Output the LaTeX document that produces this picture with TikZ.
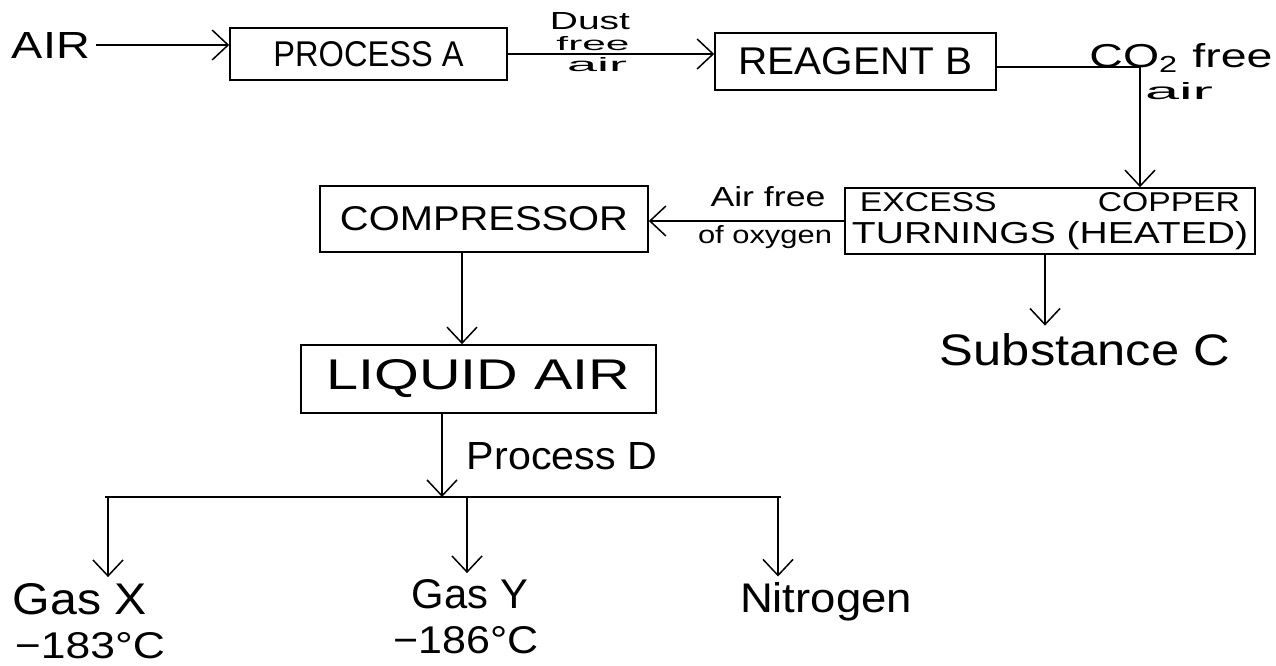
\documentclass[tikz,border=0pt]{standalone}
\usepackage{fontspec}
\setmainfont{Liberation Sans}
\usepackage{graphicx}
\usetikzlibrary{arrows.meta}
\newcommand\hwt[3]{\resizebox{#1pt}{#2pt}{#3}}
\begin{document}
\begin{tikzpicture}[x=1pt,y=-1pt,
  box/.style={draw, line width=1.6pt, inner sep=0pt, rectangle},
  lbl/.style={inner sep=0pt, anchor=center},
  flow/.style={line width=1.5pt, -{Straight Barb[length=16pt,width=30pt,line width=1.5pt]}},
  plain/.style={line width=1.5pt}]
\fill[white] (0,0) rectangle (1276,666);
\useasboundingbox (0,0) rectangle (1276,666);
% boxes
\node[box, minimum width=277pt, minimum height=52pt] (procA) at (368.5,54) {\hwt{190}{25}{PROCESS A}};
\node[box, minimum width=281pt, minimum height=57pt] (reagB) at (855.5,61.5) {\hwt{234}{27}{REAGENT B}};
\node[box, minimum width=410pt, minimum height=66pt, align=center] (exc) at (1050,221) {\hwt{380}{19}{EXCESS\hspace{3em}COPPER}\\[9pt]\hwt{396}{22}{TURNINGS (HEATED)}};
\node[box, minimum width=328pt, minimum height=66pt] (comp) at (484,219) {\hwt{288}{24}{COMPRESSOR}};
\node[box, minimum width=355pt, minimum height=68pt] (liq) at (478.5,379) {\hwt{304}{30}{LIQUID AIR}};
% labels
\node[lbl, inner sep=6pt] (air) at (51,45) {\hwt{78}{26}{AIR}};
\node[lbl] (dust) at (590,21) {\hwt{80}{17}{Dust}};
\node[lbl] (free1) at (593,44) {\hwt{73}{14}{free}};
\node[lbl] (air2) at (597,65) {\hwt{60}{14}{air}};
\node[lbl] (co2) at (1181,58) {\hwt{183}{24}{CO\textsubscript{2} free}};
\node[lbl] (air3) at (1179,91) {\hwt{68}{17}{air}};
\node[lbl] (airfree) at (768,197) {\hwt{115}{20}{Air free}};
\node[lbl] (oxy) at (765,237) {\hwt{134}{18}{of oxygen}};
\node[lbl] (subC) at (1085,350) {\hwt{290}{32}{Substance C}};
\node[lbl] (procD) at (562,456) {\hwt{190}{27}{Process D}};
\node[lbl] (gasX) at (80,599) {\hwt{134}{31}{Gas X}};
\node[lbl] (tX) at (90,646) {\hwt{150}{26}{−183°C}};
\node[lbl] (gasY) at (470,594) {\hwt{116}{29}{Gas Y}};
\node[lbl] (tY) at (466,640) {\hwt{145}{27}{−186°C}};
\node[lbl] (nit) at (826,602) {\hwt{172}{30}{Nitrogen}};
% coordinates
\coordinate (cR) at (1140,67);
\coordinate (cC) at (462,300);
\coordinate (cD) at (442,497);
\coordinate (cS) at (1045,300);
\coordinate (sL) at (105,497);
\coordinate (sR) at (781,497);
\coordinate (bX) at (108,497);
\coordinate (bY) at (467,497);
\coordinate (bN) at (778,497);
% connectors
\draw[flow] (air.east) -- (air.east -| procA.west);
\draw[flow] (procA.east) -- (procA.east -| reagB.west);
\draw[flow] (reagB.east |- cR) -- (cR) -- (cR |- exc.north);
\draw[flow] (exc.west) -- (exc.west -| comp.east);
\draw[flow] (comp.south -| cC) -- (liq.north -| cC);
\draw[flow, shorten >=8pt] (exc.south -| cS) -- (cS |- subC.north);
\draw[plain] (sL) -- (sR);
\draw[flow] (liq.south -| cD) -- (cD);
\draw[flow, shorten >=6pt] (bX) -- (bX |- gasX.north);
\draw[flow, shorten >=6pt] (bY) -- (bY |- gasY.north);
\draw[flow, shorten >=6pt] (bN) -- (bN |- nit.north);
\end{tikzpicture}
\end{document}
